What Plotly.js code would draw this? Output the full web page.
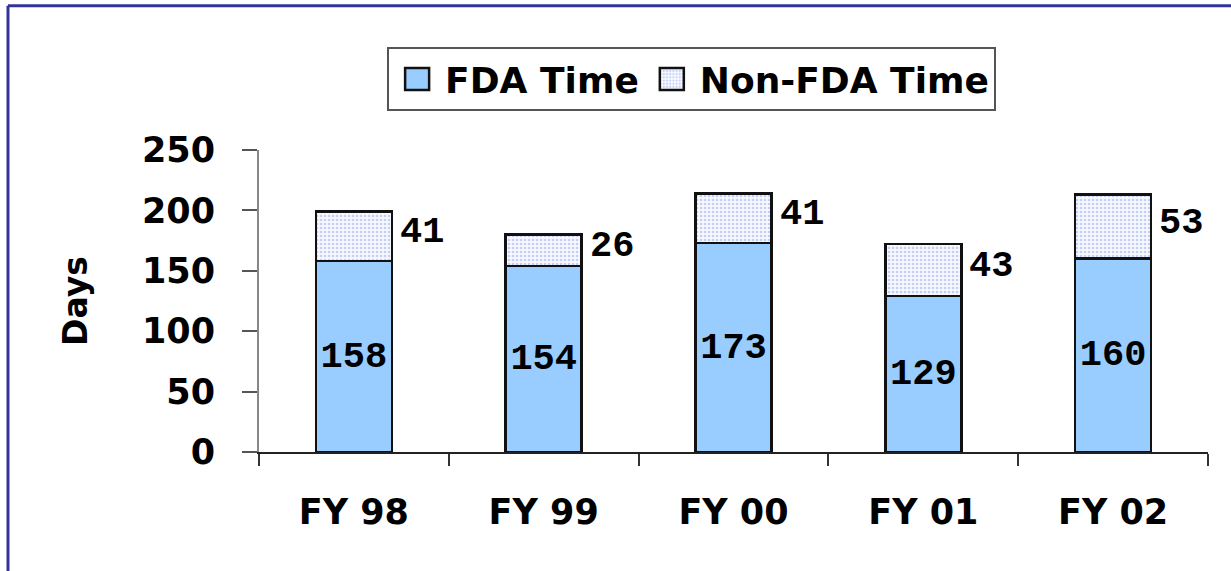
<!DOCTYPE html>
<html>
<head>
<meta charset="utf-8">
<script src="https://cdn.plot.ly/plotly-3.0.1.min.js"></script>
<style>
  html, body { margin: 0; padding: 0; background: #ffffff; }
  #chart { width: 1231px; height: 571px; }
</style>
</head>
<body>
<div id="chart"></div>
<script>
// ---- data ----
const categories = ["FY 98", "FY 99", "FY 00", "FY 01", "FY 02"];
const fdaTime = [158, 154, 173, 129, 160];
const nonFdaTime = [41, 26, 41, 43, 53];
const seriesNames = ["FDA Time", "Non-FDA Time"];
const yTicks = [0, 50, 100, 150, 200, 250];
const yTitle = "Days";

// ---- styling ----
const labelFont = { family: "DejaVu Sans", size: 35, color: "#000000", weight: "bold" };
const valueFont = { family: "'Liberation Mono', 'Courier New', Courier, monospace", size: 37, color: "#000000", weight: "bold" };

const traces = [
  {
    type: "bar",
    name: seriesNames[0],
    x: categories,
    y: fdaTime,
    text: fdaTime.map(String),
    textposition: "inside",
    insidetextanchor: "middle",
    textangle: 0,
    textfont: valueFont,
    marker: { color: "#99ccff", line: { color: "#111111", width: 2.5 } },
    hoverinfo: "x+y+name"
  },
  {
    type: "bar",
    name: seriesNames[1],
    x: categories,
    y: nonFdaTime,
    textposition: "none",
    marker: {
      color: "#f6f8ff",
      line: { color: "#111111", width: 2.5 },
      pattern: { shape: ".", fgcolor: "#c3cff5", bgcolor: "#f8f9ff", size: 4, solidity: 0.35 }
    },
    hoverinfo: "x+y+name"
  }
];

const annotations = categories.map((c, i) => ({
  x: c,
  y: fdaTime[i] + nonFdaTime[i] / 2,
  xref: "x",
  yref: "y",
  text: String(nonFdaTime[i]),
  showarrow: false,
  xanchor: "left",
  yanchor: "middle",
  xshift: 44,
  yshift: 4,
  font: valueFont
}));

const frameColor = "#333399";
const layout = {
  width: 1231,
  height: 571,
  margin: { l: 259, r: 23, t: 150, b: 119 },
  paper_bgcolor: "#ffffff",
  plot_bgcolor: "#ffffff",
  barmode: "stack",
  bargap: 0.6,
  showlegend: true,
  legend: {
    orientation: "h",
    x: 0.135,
    y: 1.341,
    xanchor: "left",
    yanchor: "top",
    bgcolor: "#ffffff",
    bordercolor: "#555555",
    borderwidth: 2,
    itemwidth: 46,
    font: { family: "DejaVu Sans", size: 36, color: "#000000", weight: "bold" },
    traceorder: "normal"
  },
  xaxis: {
    type: "category",
    range: [-0.5, 4.5],
    tickson: "boundaries",
    ticks: "outside",
    ticklen: 12,
    tickwidth: 1.5,
    tickcolor: "#333333",
    showline: true,
    linecolor: "#222222",
    linewidth: 1.5,
    showgrid: false,
    zeroline: false,
    tickfont: labelFont,
    ticklabelstandoff: 28,
    fixedrange: true
  },
  yaxis: {
    range: [0, 250],
    tickvals: yTicks,
    ticktext: yTicks.map(String),
    ticks: "outside",
    ticklen: 15,
    tickwidth: 1.5,
    tickcolor: "#555555",
    showline: true,
    linecolor: "#888888",
    linewidth: 2,
    showgrid: false,
    zeroline: false,
    tickfont: { family: "DejaVu Sans", size: 35, color: "#000000", weight: "bold" },
    ticklabelstandoff: 20,
    title: { text: yTitle, font: { family: "DejaVu Sans", size: 33, color: "#000000", weight: "bold" }, standoff: 44 },
    fixedrange: true
  },
  annotations: annotations,
  shapes: [
    { type: "line", xref: "paper", yref: "paper", x0: -0.2645, x1: 1.05, y0: 1.478, y1: 1.478,
      line: { color: frameColor, width: 3 } },
    { type: "line", xref: "paper", yref: "paper", x0: -0.2645, x1: -0.2645, y0: 1.478, y1: -0.45,
      line: { color: frameColor, width: 3 } }
  ]
};

Plotly.newPlot("chart", traces, layout, { displayModeBar: false }).then(function (gd) {
  // enlarge the legend swatches to match the reference size
  gd.querySelectorAll(".legend .legendpoints path").forEach(function (p) {
    p.setAttribute("d", "M12,11H-12V-11H12Z");
  });
});
</script>
</body>
</html>
